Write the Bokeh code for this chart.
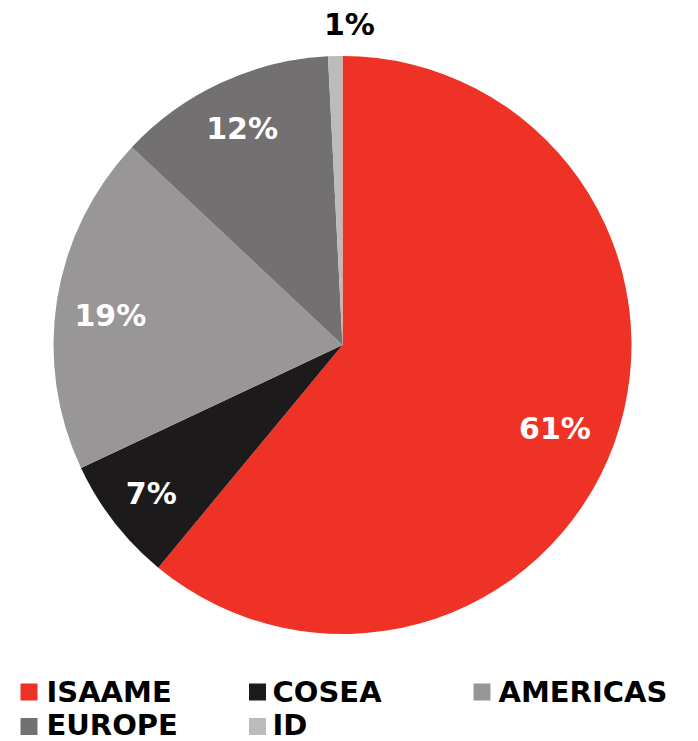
import math
from bokeh.plotting import figure
from bokeh.models import ColumnDataSource, Range1d
from bokeh.core.properties import value
from bokeh.embed import file_html
from bokeh.resources import INLINE

# ---- data ----
categories = ["ISAAME", "COSEA", "AMERICAS", "EUROPE", "ID"]
shares = [61.0, 7.0, 19.0, 12.2, 0.8]
labels = ["61%", "7%", "19%", "12%", "1%"]
colors = ["#EE3326", "#1D1A1B", "#989697", "#727071", "#BCBBBB"]
label_colors = ["white", "white", "white", "white", "black"]

# ---- layout/style ----
W, H = 698, 741
CX, CY, R = 342, 396.5, 289
label_r = [228, 242, 233, 239, 321]
label_dx = [-2, 0, -2, 0, 15]
label_dy = [-6, 0, -7, 0, 0]

total = sum(shares)
starts, ends, lx, ly = [], [], [], []
acc = 0.0
for i, s in enumerate(shares):
    a0 = math.pi / 2 - 2 * math.pi * acc / total
    acc += s
    a1 = math.pi / 2 - 2 * math.pi * acc / total
    starts.append(a0)
    ends.append(a1)
    mid = (a0 + a1) / 2
    lx.append(CX + label_r[i] * math.cos(mid) + label_dx[i])
    ly.append(CY + label_r[i] * math.sin(mid) + label_dy[i])

src = ColumnDataSource(dict(cat=categories, start=starts, end=ends, color=colors,
                            label=labels, lx=lx, ly=ly, lc=label_colors))

p = figure(width=W, height=H, output_backend="svg", toolbar_location=None,
           x_range=Range1d(0, W), y_range=Range1d(0, H), min_border=0)
p.axis.visible = False
p.grid.visible = False
p.outline_line_color = None
p.background_fill_color = "white"

p.wedge(x=CX, y=CY, radius=R, start_angle="start", end_angle="end",
        direction="clock", fill_color="color", line_color=None, source=src)

p.text(x="lx", y="ly", text="label", text_color="lc", source=src,
       text_font=value("DejaVu Sans"), text_font_style="bold",
       text_font_size="30px", text_align="center", text_baseline="middle")

# legend (manual, two rows)
sq_x = [28.5, 257, 481.5, 28.5, 257]
sq_y = [49.5, 49.5, 49.5, 15, 15]
tx_x = [46, 272, 498, 46, 272]
tx_y = [50, 50, 50, 17, 17]
leg = ColumnDataSource(dict(sx=sq_x, sy=sq_y, tx=tx_x, ty=tx_y, cat=categories, color=colors))
p.rect(x="sx", y="sy", width=17, height=17, fill_color="color", line_color=None, source=leg)
p.text(x="tx", y="ty", text="cat", source=leg, text_color="black",
       text_font=value("DejaVu Sans"), text_font_style="bold",
       text_font_size="29px", text_align="left", text_baseline="middle")

open("out.html", "w").write(file_html(p, INLINE))
